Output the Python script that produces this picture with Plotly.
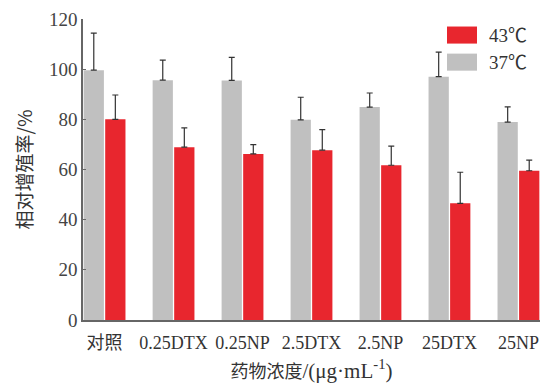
import plotly.graph_objects as go

categories = ["对照", "0.25DTX", "0.25NP", "2.5DTX", "2.5NP", "25DTX", "25NP"]
vals_37 = [99.6, 95.6, 95.5, 79.8, 84.9, 97.0, 78.9]
err_37 = [14.8, 8.0, 9.2, 9.0, 5.6, 9.8, 6.1]
vals_43 = [80.0, 68.9, 66.2, 67.7, 61.7, 46.5, 59.5]
err_43 = [9.7, 7.7, 3.7, 8.2, 7.6, 12.4, 4.2]
yticks = [0, 20, 40, 60, 80, 100, 120]

GRAY = "#C0C0C0"
RED = "#E8262E"
x = list(range(len(categories)))

fig = go.Figure()
fig.add_bar(x=x, y=vals_37, name="37℃", marker=dict(color=GRAY, line=dict(width=0)),
            error_y=dict(type="data", symmetric=False, array=err_37, arrayminus=[0]*7,
                         color="#333333", thickness=1.2, width=3),
            showlegend=False)
fig.add_bar(x=x, y=vals_43, name="43℃", marker=dict(color=RED, line=dict(width=0)),
            error_y=dict(type="data", symmetric=False, array=err_43, arrayminus=[0]*7,
                         color="#333333", thickness=1.2, width=3),
            showlegend=False)

serif = "Liberation Serif, Times New Roman, serif"
cjk = "Noto Sans CJK SC"

fig.update_layout(
    width=545, height=384,
    margin=dict(l=83, r=5, t=19, b=64, autoexpand=False),
    paper_bgcolor="white", plot_bgcolor="white",
    barmode="group", bargap=0.375, bargroupgap=0.06,
    font=dict(family=serif, size=18, color="#333333"),
    xaxis=dict(
        range=[-0.3125, 6.3125], tickmode="array", tickvals=x, ticktext=categories,
        showline=True, linecolor="#666666", linewidth=1.5, ticks="", showgrid=False,
        zeroline=False, ticklabelstandoff=6, automargin=False,
        tickfont=dict(family=serif + ", " + cjk, size=18, color="#333333"),
        title=dict(text="药物浓度<span style='font-size:21px'>/(μg·mL<sup>-1</sup>)</span>",
                   font=dict(family=serif + ", " + cjk, size=18), standoff=13),
    ),
    yaxis=dict(
        range=[0, 120], tickvals=yticks, showline=True, linecolor="#666666", linewidth=1.5,
        ticks="inside", ticklen=3, tickcolor="#666666", showgrid=False, zeroline=False,
        automargin=False,
        tickfont=dict(family=serif, size=19, color="#444444"),
        title=dict(text="相对增殖率/%", font=dict(family=cjk, size=19), standoff=11),
    ),
)

# legend drawn manually
legend_items = [("43℃", RED), ("37℃", GRAY)]
for i, (lab, col) in enumerate(legend_items):
    y0 = 27 + i * 27
    fig.add_shape(type="rect", xref="paper", yref="paper",
                  x0=(447 - 83) / 457, x1=(477 - 83) / 457,
                  y0=1 - (y0 + 17 - 19.5) / 300, y1=1 - (y0 - 19.5) / 300,
                  fillcolor=col, line=dict(width=0))
    fig.add_annotation(xref="paper", yref="paper", x=(487 - 83) / 457,
                       y=1 - (y0 + 8.5 - 19.5) / 300, text=lab, showarrow=False,
                       xanchor="left", yanchor="middle",
                       font=dict(family=serif + ", " + cjk, size=19, color="#333333"))

fig.write_html("out.html", config={"displayModeBar": False},
               post_script="document.body.style.margin='0';document.body.style.overflow='hidden';")
